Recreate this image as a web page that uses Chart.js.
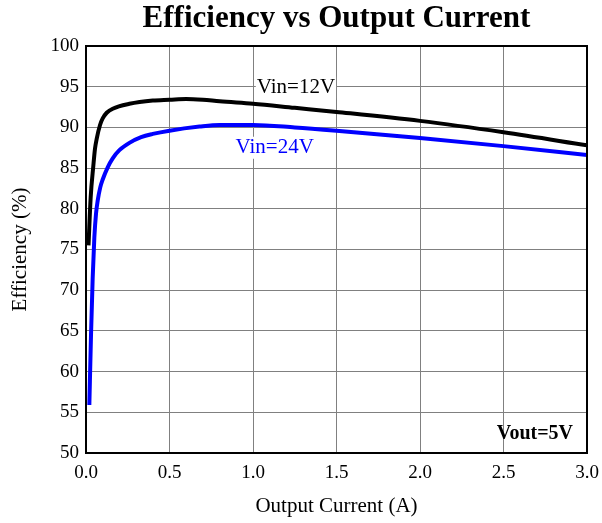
<!DOCTYPE html>
<html lang="en">
<head>
  <meta charset="UTF-8">
  <title>Efficiency vs Output Current</title>
  <script src="https://cdn.jsdelivr.net/npm/chart.js@4.4.0/dist/chart.umd.min.js"></script>
  <style>
    body { margin: 0; background: #fff; }
    #wrap { width: 602px; height: 523px; }
  </style>
</head>
<body>
  <div id="wrap"><canvas id="effChart" width="602" height="523"></canvas></div>
  <script>
    // Vin=12V
    const x12 = [0.015, 0.028, 0.044, 0.054, 0.064, 0.084, 0.1, 0.124, 0.16, 0.26, 0.4, 0.5, 0.6, 0.7, 0.8, 1.0, 1.25, 1.5, 2.0, 2.5, 3.0];
    const eff12 = [75.5, 81.4, 85.3, 87.4, 88.6, 90.3, 91.1, 91.8, 92.3, 92.9, 93.3, 93.4, 93.5, 93.4, 93.2, 92.9, 92.4, 91.9, 90.8, 89.4, 87.8];
    // Vin=24V
    const x24 = [0.02, 0.03, 0.04, 0.05, 0.06, 0.07, 0.085, 0.1, 0.13, 0.16, 0.2, 0.26, 0.33, 0.4, 0.5, 0.68, 0.8, 1.0, 1.25, 1.5, 2.0, 2.5, 3.0];
    const eff24 = [55.9, 64.5, 71.5, 76.5, 79.4, 81.0, 82.6, 83.6, 85.1, 86.2, 87.2, 88.1, 88.8, 89.2, 89.6, 90.1, 90.3, 90.3, 90.0, 89.6, 88.7, 87.7, 86.6];

    const chartTitle = 'Efficiency vs Output Current';
    const serif = '"Liberation Serif", "DejaVu Serif", serif';

    function pts(xs, ys) {
      return xs.map((x, i) => ({ x: x, y: ys[i] }));
    }

    function boxedText(ctx, txt, x, y, color) {
      const w = ctx.measureText(txt).width;
      ctx.fillStyle = '#fff';
      ctx.fillRect(x - w / 2 - 1, y - 11, w + 2, 22);
      ctx.fillStyle = color;
      ctx.fillText(txt, x, y);
    }

    // title over the plot, curve labels, frame
    const extras = {
      id: 'extras',
      afterDatasetsDraw(chart) {
        const { ctx, chartArea: a, scales } = chart;
        const sx = scales.x, sy = scales.y;
        ctx.save();
        ctx.textBaseline = 'middle';
        ctx.textAlign = 'center';
        ctx.font = 'bold 31px ' + serif;
        ctx.fillStyle = '#000';
        ctx.fillText(chartTitle, (a.left + a.right) / 2, 19);

        ctx.font = '21px ' + serif;
        boxedText(ctx, 'Vin=12V', sx.getPixelForValue(1.257), sy.getPixelForValue(94.9), '#000');
        boxedText(ctx, 'Vin=24V', sx.getPixelForValue(1.13), sy.getPixelForValue(87.5), '#0000ff');
        ctx.font = 'bold 20px ' + serif;
        ctx.fillStyle = '#000';
        ctx.textAlign = 'right';
        ctx.fillText('Vout=5V', a.right - 14, a.bottom - 19);
        ctx.strokeStyle = '#000';
        ctx.lineWidth = 2;
        ctx.strokeRect(a.left, a.top, a.right - a.left, a.bottom - a.top);
        ctx.restore();
      }
    };

    new Chart(document.getElementById('effChart'), {
      type: 'line',
      data: {
        datasets: [{
          label: 'Vin=12V',
          data: pts(x12, eff12),
          borderColor: '#000000',
          borderWidth: 4,
          pointRadius: 0,
          cubicInterpolationMode: 'monotone',
          fill: false
        },
        {
          label: 'Vin=24V',
          data: pts(x24, eff24),
          borderColor: '#0000ff',
          borderWidth: 4,
          pointRadius: 0,
          cubicInterpolationMode: 'monotone',
          fill: false
        }]
      },
      options: {
        responsive: false,
        animation: false,
        layout: { padding: { left: 4, right: 15, top: 46, bottom: 0 } },
        plugins: {
          legend: { display: false },
          tooltip: { enabled: false },
          title: { display: false }
        },
        scales: {
          x: {
            type: 'linear',
            min: 0, max: 3,
            afterFit(s) { s.height = 70; s.paddingLeft = 0; s.paddingRight = 0; },
            ticks: {
              stepSize: 0.5,
              color: '#000',
              font: { family: serif, size: 19 },
              padding: 9,
              callback: v => v.toFixed(1)
            },
            grid: { color: '#808080', lineWidth: 1, drawTicks: false },
            border: { color: '#000', width: 2 },
            title: {
              display: true,
              text: 'Output Current (A)',
              color: '#000',
              font: { family: serif, size: 21 },
              padding: { top: 10 }
            }
          },
          y: {
            min: 50, max: 100,
            afterFit(s) { s.width = 82; s.paddingTop = 0; s.paddingBottom = 0; },
            ticks: {
              stepSize: 5,
              color: '#000',
              font: { family: serif, size: 19 },
              padding: 7
            },
            grid: { color: '#808080', lineWidth: 1, drawTicks: false },
            border: { color: '#000', width: 2 },
            title: {
              display: true,
              text: 'Efficiency (%)',
              color: '#000',
              font: { family: serif, size: 21 },
              padding: { bottom: 4 }
            }
          }
        }
      },
      plugins: [extras]
    });
  </script>
</body>
</html>
